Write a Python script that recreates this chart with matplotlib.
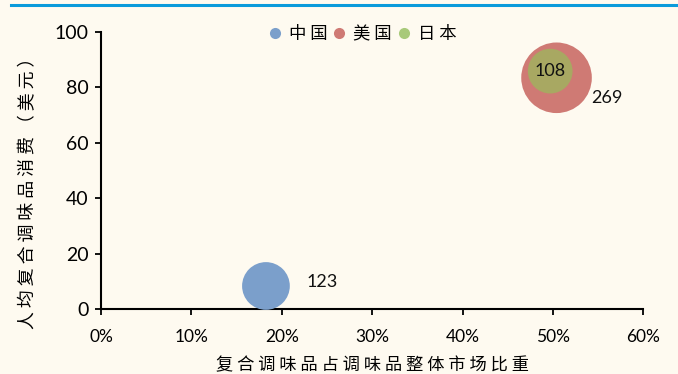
import matplotlib
matplotlib.use("Agg")
import matplotlib.pyplot as plt
from matplotlib.lines import Line2D

# Data
countries = ["中国", "美国", "日本"]
share_pct = [18.25, 50.4, 49.7]        # 复合调味品占调味品整体市场比重 (%)
per_capita = [8.4, 83.4, 85.8]         # 人均复合调味品消费（美元）
bubble_vals = [123, 269, 108]
bubble_colors = ["#7B9FCB", "#CF7A74", "#A8A862"]
legend_colors = ["#7B9FCB", "#CF7A74", "#A8C97A"]
x_ticks = [0, 10, 20, 30, 40, 50, 60]
y_ticks = [0, 20, 40, 60, 80, 100]

BG = "#FEFAF0"
CJK = ["Noto Sans CJK SC", "DejaVu Sans"]

def spaced(s, sep=" "):
    return sep.join(list(s))

fig = plt.figure(figsize=(6.78, 3.74), dpi=100, facecolor=BG)
ax = fig.add_axes([101/678, 1 - 309.3/374, (643 - 100.7)/678, (309.3 - 31.7)/374])
ax.set_facecolor(BG)

k = 9.6
sizes = [v * k for v in bubble_vals]
ax.scatter(share_pct, per_capita, s=sizes, c=bubble_colors, linewidths=0, zorder=3, clip_on=False)

# value labels
offsets = [(41, 4), (35, -20), (0, 0)]
has = ["left", "left", "center"]
for xv, yv, val, off, ha in zip(share_pct, per_capita, bubble_vals, offsets, has):
    ax.annotate(str(val), (xv, yv), xytext=off, textcoords="offset pixels",
                ha=ha, va="center", fontsize=13, family="Lato", color="#111111", zorder=4)

ax.set_xlim(0, 60)
ax.set_ylim(0, 100)
ax.set_xticks(x_ticks)
ax.set_xticklabels([f"{t}%" for t in x_ticks], family="Lato", fontsize=12.5)
ax.set_yticks(y_ticks)
ax.set_yticklabels([str(t) for t in y_ticks], family="Lato", fontsize=14)
ax.tick_params(direction="out", length=4, width=1.3, color="black", pad=5)
ax.tick_params(axis="x", pad=10)
for s in ["top", "right"]:
    ax.spines[s].set_visible(False)
for s in ["left", "bottom"]:
    ax.spines[s].set_linewidth(1.5)
    ax.spines[s].set_color("black")

ax.set_xlabel(spaced("复合调味品占调味品整体市场比重"), family=CJK, fontsize=12.4, labelpad=8)
ax.set_ylabel(spaced("人均复合调味品消费（美元）"), family=CJK, fontsize=12.9)
ax.yaxis.set_label_coords(-0.118, 0.435)

handles = [Line2D([0], [0], marker="o", linestyle="", markersize=8,
                  markerfacecolor=c, markeredgewidth=0) for c in legend_colors]
leg = ax.legend(handles, [spaced(c) for c in countries], loc="center",
                bbox_to_anchor=(0.48, 0.99), ncol=3, frameon=False,
                handletextpad=0.3, columnspacing=0.2, handlelength=1.0,
                prop={"family": CJK, "size": 12.5})

# top blue rule
fig.add_artist(Line2D([11/678, 1.0], [1 - 5/374, 1 - 5/374], color="#0A9BDB", linewidth=2.2))

fig.savefig("out.png", dpi=100, facecolor=BG)
